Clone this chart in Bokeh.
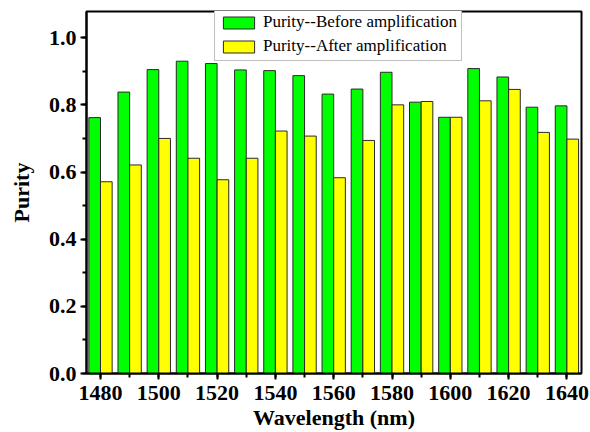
from bokeh.plotting import figure
from bokeh.models import ColumnDataSource, Range1d, SingleIntervalTicker, NumeralTickFormatter, Legend, LegendItem
from bokeh.transform import dodge
from bokeh.embed import file_html
from bokeh.resources import INLINE

wavelengths = [1480, 1490, 1500, 1510, 1520, 1530, 1540, 1550, 1560, 1570, 1580, 1590, 1600, 1610, 1620, 1630, 1640]
purity_before = [0.762, 0.838, 0.905, 0.930, 0.923, 0.904, 0.902, 0.887, 0.832, 0.847, 0.897, 0.808, 0.763, 0.908, 0.883, 0.793, 0.797]
purity_after = [0.571, 0.621, 0.700, 0.641, 0.577, 0.641, 0.722, 0.707, 0.583, 0.694, 0.800, 0.810, 0.763, 0.812, 0.846, 0.718, 0.698]

src = ColumnDataSource(dict(wl=wavelengths, before=purity_before, after=purity_after))

FONT = "Liberation Serif"

p = figure(width=590, height=432, output_backend="svg", toolbar_location=None,
           x_range=Range1d(1475.2, 1645.0), y_range=Range1d(0, 1.078),
           min_border_left=86, min_border_right=9, min_border_top=11, min_border_bottom=58)

r1 = p.vbar(x=dodge('wl', -2.0), top='before', width=4.0, bottom=0, source=src,
            fill_color="#00ff00", line_color="#2a2a2a", line_width=1)
r2 = p.vbar(x=dodge('wl', 2.0), top='after', width=4.0, bottom=0, source=src,
            fill_color="#ffff00", line_color="#2a2a2a", line_width=1)

p.xgrid.visible = False
p.ygrid.visible = False
p.outline_line_color = "black"
p.outline_line_width = 2
p.outline_line_alpha = 1.0

p.xaxis.ticker = SingleIntervalTicker(interval=20, num_minor_ticks=2)
p.yaxis.ticker = SingleIntervalTicker(interval=0.2, num_minor_ticks=2)
p.yaxis.formatter = NumeralTickFormatter(format="0.0")

for ax in (p.xaxis, p.yaxis):
    ax.axis_line_width = 2
    ax.axis_line_color = "black"
    ax.major_tick_line_width = 2
    ax.minor_tick_line_width = 2
    ax.major_tick_in = 0
    ax.major_tick_out = 6
    ax.minor_tick_in = 0
    ax.minor_tick_out = 4
    ax.major_label_text_font = FONT
    ax.major_label_text_font_style = "bold"
    ax.major_label_text_font_size = "22px"
    ax.major_label_text_color = "black"
    ax.major_label_standoff = 4
    ax.axis_label_text_font = FONT
    ax.axis_label_text_font_style = "bold"
    ax.axis_label_text_font_size = "22px"
    ax.axis_label_text_color = "black"

p.xaxis.major_label_standoff = 6
p.xaxis.axis_label = "Wavelength (nm)"
p.yaxis.axis_label = "Purity"
p.xaxis.axis_label_standoff = 2
p.yaxis.axis_label_standoff = 12

legend = Legend(items=[LegendItem(label="Purity--Before amplification", renderers=[r1]),
                       LegendItem(label="Purity--After amplification", renderers=[r2])],
                location=(128, 312))
legend.label_text_font = FONT
legend.label_text_font_size = "17px"
legend.label_text_color = "black"
legend.glyph_width = 39
legend.glyph_height = 15
legend.label_standoff = 5
legend.padding = 4
legend.spacing = 4
legend.margin = 0
legend.border_line_color = "#808080"
legend.border_line_width = 1
legend.background_fill_color = "white"
legend.background_fill_alpha = 1.0
legend.label_height = 17
p.add_layout(legend, "center")

open("out.html", "w").write(file_html(p, INLINE))
